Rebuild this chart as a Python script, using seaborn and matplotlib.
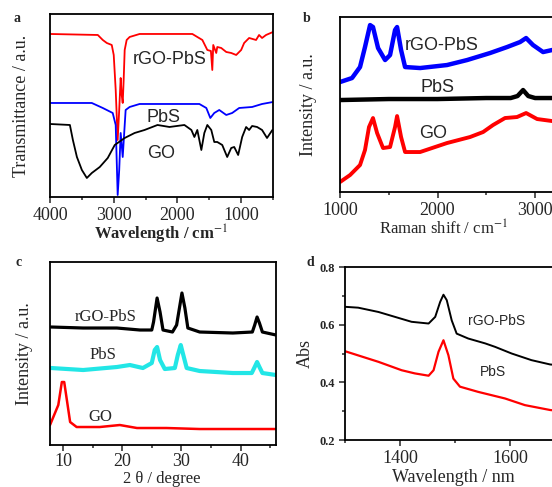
import matplotlib
matplotlib.use("Agg")
import matplotlib.pyplot as plt
import seaborn as sns
from matplotlib.ticker import MultipleLocator

# ---- (a) FTIR ----
ir_go_x = [4000, 3688, 3641, 3578, 3500, 3422, 3344, 3219, 3094, 2984, 2828, 2672, 2516, 2313,
           2125, 1891, 1781, 1734, 1688, 1625, 1578, 1531, 1469, 1422, 1375, 1297, 1219, 1156,
           1109, 1047, 984, 922, 875, 828, 750, 672, 594, 510]
ir_go_y = [73, 72, 57, 40, 27, 19, 24, 30, 39, 52, 59, 64, 67, 72,
           70, 72, 67, 60, 67, 47, 64, 72, 67, 55, 55, 52, 40, 49,
           50, 42, 60, 70, 67, 71, 70, 67, 59, 67]
ir_pbs_x = [4000, 3344, 3172, 3016, 2969, 2938, 2914, 2891, 2859, 2813, 2750, 2594, 1656, 1547,
            1484, 1422, 1344, 1234, 1141, 1031, 828, 672, 500]
ir_pbs_y = [94, 94, 89, 84, 72, 2, 27, 64, 40, 87, 90, 93, 93, 89,
            79, 84, 87, 82, 84, 89, 90, 93, 95]
ir_rgo_x = [4000, 3250, 3172, 3109, 3031, 3000, 2969, 2938, 2914, 2891, 2875, 2859, 2844, 2828,
            2797, 2750, 2594, 1766, 1688, 1609, 1531, 1475, 1453, 1438, 1391, 1375, 1313, 1234,
            1156, 1078, 1000, 953, 875, 766, 719, 672, 609, 500]
ir_rgo_y = [163, 162, 157, 154, 152, 142, 107, 57, 87, 119, 102, 94, 117, 147,
            157, 160, 163, 163, 160, 157, 147, 146, 127, 152, 144, 150, 149, 145,
            144, 142, 147, 154, 159, 157, 162, 159, 162, 165]

# ---- (b) Raman ----
raman_rgo_x = [1000, 1123, 1205, 1256, 1308, 1338, 1390, 1462, 1513, 1564, 1585, 1626, 1667, 1821,
               2097, 2303, 2538, 2713, 2846, 2908, 2979, 3082, 3174, 3300]
raman_rgo_y = [110, 114, 125, 145, 167, 165, 144, 132, 137, 162, 165, 142, 125, 124,
               127, 132, 139, 145, 150, 154, 147, 140, 142, 143]
raman_pbs_x = [1000, 1500, 2000, 2500, 2750, 2820, 2877, 2930, 3000, 3300]
raman_pbs_y = [92, 93, 93, 94, 94, 96, 102, 96, 94, 94]
raman_go_x = [1000, 1103, 1205, 1256, 1297, 1338, 1380, 1441, 1513, 1564, 1585, 1626, 1667, 1821,
              2097, 2333, 2467, 2569, 2692, 2815, 2908, 3021, 3174, 3300]
raman_go_y = [10, 17, 27, 42, 65, 74, 59, 44, 45, 65, 76, 55, 40, 40,
              49, 55, 60, 67, 74, 75, 79, 73, 71, 71]

# ---- (c) XRD ----
xrd_rgo_x = [8.0, 13.4, 19.1, 23.0, 25.0, 25.3, 25.9, 26.4, 26.9, 28.5, 29.2, 30.1, 30.6, 31.1,
             33.1, 38.7, 42.0, 42.4, 42.8, 43.2, 43.7, 46.0]
xrd_rgo_y = [118, 117, 117, 115, 115, 123, 147, 133, 115, 113, 120, 152, 137, 117,
             113, 112, 113, 120, 128, 122, 113, 110]
xrd_pbs_x = [8.0, 13.4, 19.1, 21.3, 23.5, 25.0, 25.5, 25.9, 26.4, 27.2, 28.9, 29.4, 29.9, 30.2,
             30.9, 33.1, 38.7, 41.9, 42.4, 42.8, 43.2, 43.7, 46.0]
xrd_pbs_y = [77, 75, 78, 80, 77, 82, 95, 98, 85, 76, 77, 90, 100, 93,
             77, 74, 72, 72, 78, 83, 78, 72, 70]
xrd_go_x = [7.8, 9.2, 9.8, 10.2, 10.7, 11.2, 12.3, 16.2, 19.6, 22.5, 27.5, 33.1, 46.0]
xrd_go_y = [20, 40, 63, 63, 43, 23, 18, 18, 20, 17, 17, 16, 16]

# ---- (d) absorbance ----
uv_rgo_x = [1300, 1324, 1361, 1391, 1421, 1452, 1464, 1473, 1479, 1485, 1494, 1503, 1524, 1555,
            1573, 1603, 1639, 1673, 1750]
uv_rgo_y = [0.662, 0.659, 0.644, 0.627, 0.610, 0.604, 0.627, 0.679, 0.704, 0.685, 0.615, 0.569,
            0.552, 0.535, 0.523, 0.500, 0.477, 0.462, 0.45]
uv_pbs_x = [1300, 1361, 1403, 1427, 1452, 1461, 1470, 1479, 1488, 1497, 1509, 1542, 1591, 1627,
            1673, 1750]
uv_pbs_y = [0.508, 0.471, 0.442, 0.431, 0.423, 0.442, 0.506, 0.546, 0.494, 0.413, 0.385, 0.367,
            0.344, 0.321, 0.304, 0.29]

sns.set_style("ticks")
plt.rcParams["font.family"] = ["Liberation Serif", "DejaVu Serif"]
plt.rcParams["mathtext.fontset"] = "stix"

SERIF = "Liberation Serif"
SANS = "Liberation Sans"

fig = plt.figure(figsize=(5.52, 4.87), dpi=100)
ax_a = fig.add_axes([0.0906, 0.5955, 0.404, 0.3758])
ax_b = fig.add_axes([0.616, 0.6057, 0.424, 0.3593])
ax_c = fig.add_axes([0.0906, 0.0862, 0.4094, 0.3758])
ax_d = fig.add_axes([0.625, 0.0965, 0.4484, 0.3552])


def line(ax, x, y, color, lw):
    sns.lineplot(x=x, y=y, ax=ax, color=color, linewidth=lw, estimator=None)


def style(ax, fs=13):
    for s in ax.spines.values():
        s.set_linewidth(1.3)
        s.set_color("black")
    ax.tick_params(axis="both", which="both", direction="out", width=1.1,
                   labelsize=fs, pad=3)
    ax.tick_params(which="major", length=4)
    ax.tick_params(which="minor", length=2.5)
    for lab in ax.get_xticklabels() + ax.get_yticklabels():
        lab.set_fontfamily(SERIF)


# (a)
line(ax_a, ir_rgo_x, ir_rgo_y, "#ff0000", 1.3)
line(ax_a, ir_pbs_x, ir_pbs_y, "#0000ff", 1.3)
line(ax_a, ir_go_x, ir_go_y, "black", 1.3)
ax_a.set_xlim(4000, 500)
ax_a.set_ylim(0, 183)
ax_a.set_xticks([4000, 3000, 2000, 1000])
ax_a.xaxis.set_minor_locator(MultipleLocator(500))
ax_a.set_yticks([])
style(ax_a)
ax_a.set_xlabel("Wavelength / cm$^{-1}$", fontsize=12, fontweight="bold")
ax_a.set_ylabel("Transmittance / a.u.", fontsize=13)
ax_a.xaxis.set_label_coords(0.5, -0.14)
ax_a.yaxis.set_label_coords(-0.09, 0.5)
ax_a.text(0.538, 0.749, "rGO-PbS", transform=ax_a.transAxes, ha="center", va="center",
          fontsize=13, family=SANS)
ax_a.text(0.507, 0.437, "PbS", transform=ax_a.transAxes, ha="center", va="center",
          fontsize=13, family=SANS)
ax_a.text(0.498, 0.240, "GO", transform=ax_a.transAxes, ha="center", va="center",
          fontsize=13, family=SANS)

# (b)
line(ax_b, raman_rgo_x, raman_rgo_y, "#0000ff", 3.2)
line(ax_b, raman_pbs_x, raman_pbs_y, "black", 3.2)
line(ax_b, raman_go_x, raman_go_y, "#ff0000", 2.8)
ax_b.set_xlim(1000, 3400)
ax_b.set_ylim(0, 175)
ax_b.set_xticks([1000, 2000, 3000])
ax_b.xaxis.set_minor_locator(MultipleLocator(500))
ax_b.set_yticks([])
style(ax_b)
ax_b.set_xlabel("Raman shift / cm$^{-1}$", fontsize=12)
ax_b.set_ylabel("Intensity / a.u.", fontsize=13)
ax_b.xaxis.set_label_coords(0.44, -0.16)
ax_b.yaxis.set_label_coords(-0.098, 0.5)
ax_b.text(0.436, 0.84, "rGO-PbS", transform=ax_b.transAxes, ha="center", va="center",
          fontsize=13, family=SANS)
ax_b.text(0.415, 0.60, "PbS", transform=ax_b.transAxes, ha="center", va="center",
          fontsize=13, family=SANS)
ax_b.text(0.397, 0.337, "GO", transform=ax_b.transAxes, ha="center", va="center",
          fontsize=13, family=SANS)

# (c)
line(ax_c, xrd_rgo_x, xrd_rgo_y, "black", 2.3)
line(ax_c, xrd_pbs_x, xrd_pbs_y, "#22e6e6", 3.0)
line(ax_c, xrd_go_x, xrd_go_y, "#ff0000", 1.8)
ax_c.set_xlim(7.8, 46)
ax_c.set_ylim(0, 183)
ax_c.set_xticks([10, 20, 30, 40])
ax_c.xaxis.set_minor_locator(MultipleLocator(5))
ax_c.set_yticks([])
style(ax_c)
ax_c.tick_params(axis="x", pad=1.5)
ax_c.set_xlabel("2 θ / degree", fontsize=12)
ax_c.set_ylabel("Intensity / a.u.", fontsize=13)
ax_c.xaxis.set_label_coords(0.496, -0.14)
ax_c.yaxis.set_label_coords(-0.075, 0.5)
ax_c.text(0.248, 0.70, "rGO-PbS", transform=ax_c.transAxes, ha="center", va="center",
          fontsize=12, family=SERIF)
ax_c.text(0.235, 0.49, "PbS", transform=ax_c.transAxes, ha="center", va="center",
          fontsize=12, family=SERIF)
ax_c.text(0.221, 0.153, "GO", transform=ax_c.transAxes, ha="center", va="center",
          fontsize=12, family=SERIF)

# (d)
line(ax_d, uv_rgo_x, uv_rgo_y, "black", 1.4)
line(ax_d, uv_pbs_x, uv_pbs_y, "#ff0000", 1.6)
ax_d.set_xlim(1300, 1750)
ax_d.set_ylim(0.2, 0.8)
ax_d.set_xticks([1400, 1600])
ax_d.xaxis.set_minor_locator(MultipleLocator(100))
ax_d.set_yticks([0.2, 0.4, 0.6, 0.8])
ax_d.yaxis.set_minor_locator(MultipleLocator(0.1))
style(ax_d)
ax_d.tick_params(axis="y", labelsize=9)
for lab in ax_d.get_yticklabels():
    lab.set_fontweight("bold")
ax_d.set_xlabel("Wavelength / nm", fontsize=13)
ax_d.set_ylabel("Abs", fontsize=13)
ax_d.xaxis.set_label_coords(0.436, -0.165)
ax_d.yaxis.set_label_coords(-0.125, 0.5)
ax_d.text(0.614, 0.688, "rGO-PbS", transform=ax_d.transAxes, ha="center", va="center",
          fontsize=10, family=SANS)
ax_d.text(0.598, 0.393, "PbS", transform=ax_d.transAxes, ha="center", va="center",
          fontsize=10, family=SANS)

# panel letters
for lbl, (fx, fy) in zip("abcd", [(0.031, 0.963), (0.556, 0.963), (0.033, 0.46), (0.562, 0.46)]):
    fig.text(fx, fy, lbl, fontsize=10, fontweight="bold", family=SERIF, ha="center", va="center")

fig.savefig("out.png", dpi=100)
